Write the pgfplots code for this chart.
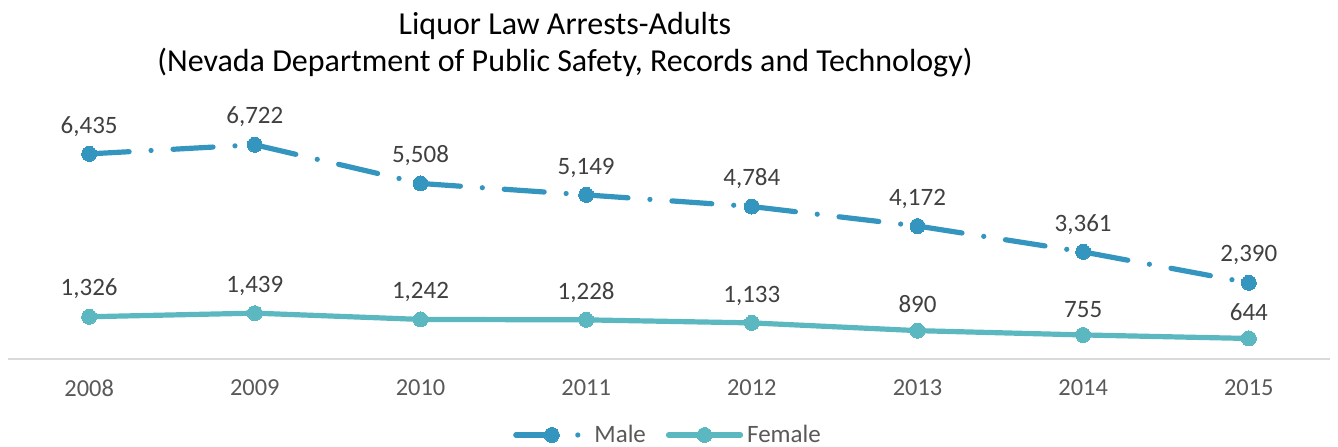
\documentclass[border=0pt]{standalone}
\usepackage{fontspec}
\setmainfont{Carlito}
\usepackage{pgfplots}
\pgfplotsset{compat=1.18}
\definecolor{male}{RGB}{52,150,190}
\definecolor{female}{RGB}{91,184,192}
\definecolor{txt}{RGB}{64,64,64}
\definecolor{tick}{RGB}{89,89,89}
\begin{document}
\begin{tikzpicture}[x=0.5pt,y=0.5pt]
\path[use as bounding box] (0,0) rectangle (1338,446);
\node[align=center, font=\fontsize{16}{18.5}\selectfont, text=black] at (565,401) {Liquor Law Arrests-Adults\\(Nevada Department of Public Safety, Records and Technology)};
\begin{axis}[
  at={(4pt,43.5pt)}, anchor=south west,
  scale only axis, width=661pt, height=127.5pt,
  xmin=-0.49, xmax=7.49, ymin=0, ymax=8000,
  axis x line*=bottom, axis y line=none,
  x axis line style={-, draw=black!15, line width=0.75pt},
  xtick={0,...,7},
  xticklabels={2008,2009,2010,2011,2012,2013,2014,2015},
  major tick length=0pt, ytick=\empty,
  /pgf/number format/assume math mode=true,
  /pgf/number format/1000 sep={,},
  xticklabel style={font=\fontsize{12.2}{14}\selectfont, text=tick, yshift=-7pt},
  nodes near coords,
  every node near coord/.append style={font=\fontsize{12.5}{14}\selectfont, text=txt, yshift=5.5pt},
  legend style={at={(0.5,-0.298)}, anchor=center, legend columns=2, draw=none, fill=none,
    font=\fontsize{12.5}{14}\selectfont, text=tick,
    /tikz/every even column/.append style={column sep=8pt}},
  legend image code/.code={\draw[mark repeat=2,mark phase=2,line cap=round,#1] plot coordinates {(0pt,0pt) (18pt,0pt) (36pt,0pt)};},
  clip=false,
]
\addplot[color=male, line width=2.6pt, line cap=round, dash pattern=on 20pt off 11pt on 0pt off 11pt,
  mark=*, mark size=3.75pt, mark options={solid, fill=male, draw=male, line width=0pt}]
  coordinates {(0,6435) (1,6722) (2,5508) (3,5149) (4,4784) (5,4172) (6,3361) (7,2390)};
\addlegendentry{Male}
\addplot[color=female, line width=2.6pt, line cap=round, solid,
  mark=*, mark size=3.75pt, mark options={solid, fill=female, draw=female, line width=0pt}]
  coordinates {(0,1326) (1,1439) (2,1242) (3,1228) (4,1133) (5,890) (6,755) (7,644)};
\addlegendentry{Female}
\end{axis}
\end{tikzpicture}
\end{document}
